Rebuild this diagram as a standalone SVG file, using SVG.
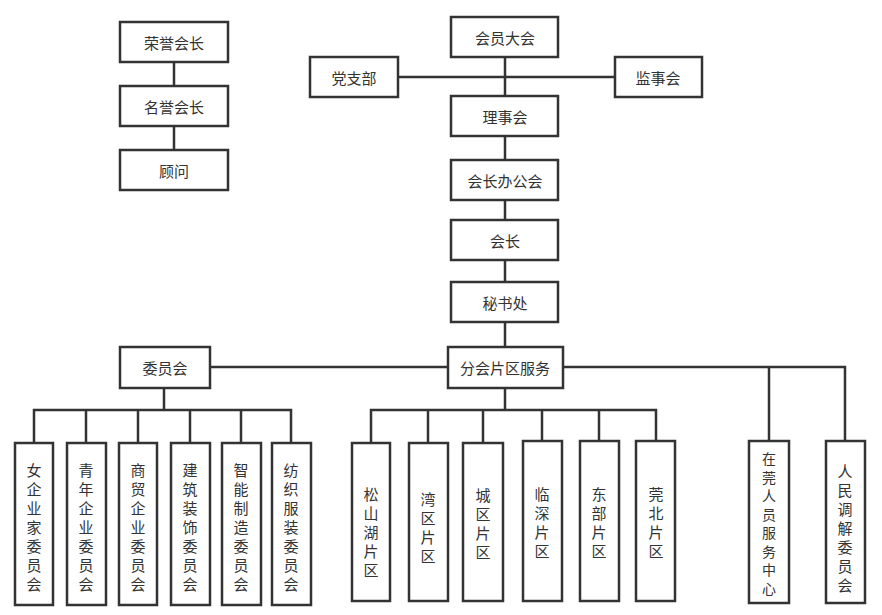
<svg xmlns="http://www.w3.org/2000/svg" width="882" height="615" viewBox="0 0 882 615">
<style>
rect{fill:#fff;stroke:#333;stroke-width:2.5}
text{font-family:"Noto Sans CJK SC","Noto Sans",sans-serif;font-size:15px;fill:#333;text-anchor:middle;dominant-baseline:central}
.sm{font-size:14px}
.c line,.c polyline{stroke:#333;stroke-width:2.5;fill:none}
</style>
<rect x="0" y="0" width="882" height="615" style="stroke:none"/>
<g class="c" id="connectors">
<line x1="174" y1="62" x2="174" y2="150"/>
<line x1="505" y1="57" x2="505" y2="347"/>
<line x1="398" y1="77" x2="615" y2="77"/>
<line x1="210" y1="367" x2="448" y2="367"/>
<polyline points="563,367 845,367 845,441"/>
<line x1="769" y1="367" x2="769" y2="441"/>
<line x1="164" y1="388" x2="164" y2="410"/>
<polyline points="34,443 34,410 291,410 291,443"/>
<line x1="86" y1="410" x2="86" y2="443"/><line x1="138" y1="410" x2="138" y2="443"/><line x1="190" y1="410" x2="190" y2="443"/><line x1="241" y1="410" x2="241" y2="443"/>
<line x1="505" y1="388" x2="505" y2="410"/>
<polyline points="371,443 371,410 656,410 656,441"/>
<line x1="428" y1="410" x2="428" y2="443"/><line x1="483" y1="410" x2="483" y2="443"/><line x1="542" y1="410" x2="542" y2="441"/><line x1="599" y1="410" x2="599" y2="441"/>
</g>
<g id="n1"><rect x="120" y="22" width="108" height="40"/><text x="174" y="42">荣誉会长</text></g>
<g id="n2"><rect x="120" y="86" width="108" height="40"/><text x="174" y="106">名誉会长</text></g>
<g id="n3"><rect x="120" y="150" width="108" height="40"/><text x="174" y="170">顾问</text></g>
<g id="n4"><rect x="451" y="17" width="107" height="40"/><text x="505" y="37">会员大会</text></g>
<g id="n5"><rect x="310" y="57" width="88" height="40"/><text x="354" y="77">党支部</text></g>
<g id="n6"><rect x="615" y="57" width="87" height="40"/><text x="658" y="77">监事会</text></g>
<g id="n7"><rect x="451" y="96" width="107" height="40"/><text x="505" y="116">理事会</text></g>
<g id="n8"><rect x="451" y="160" width="107" height="40"/><text x="505" y="180">会长办公会</text></g>
<g id="n9"><rect x="451" y="220" width="107" height="40"/><text x="505" y="240">会长</text></g>
<g id="n10"><rect x="451" y="282" width="107" height="40"/><text x="505" y="302">秘书处</text></g>
<g id="n11"><rect x="120" y="347" width="90" height="41"/><text x="165" y="367">委员会</text></g>
<g id="n12"><rect x="448" y="347" width="115" height="41"/><text x="505" y="367">分会片区服务</text></g>
<g id="b1"><rect x="15" y="443" width="38" height="162"/><text><tspan x="34" y="469">女</tspan><tspan x="34" y="488">企</tspan><tspan x="34" y="507">业</tspan><tspan x="34" y="526">家</tspan><tspan x="34" y="545">委</tspan><tspan x="34" y="564">员</tspan><tspan x="34" y="583">会</tspan></text></g>
<g id="b2"><rect x="67" y="443" width="39" height="162"/><text><tspan x="86" y="469">青</tspan><tspan x="86" y="488">年</tspan><tspan x="86" y="507">企</tspan><tspan x="86" y="526">业</tspan><tspan x="86" y="545">委</tspan><tspan x="86" y="564">员</tspan><tspan x="86" y="583">会</tspan></text></g>
<g id="b3"><rect x="119" y="443" width="38" height="162"/><text><tspan x="138" y="469">商</tspan><tspan x="138" y="488">贸</tspan><tspan x="138" y="507">企</tspan><tspan x="138" y="526">业</tspan><tspan x="138" y="545">委</tspan><tspan x="138" y="564">员</tspan><tspan x="138" y="583">会</tspan></text></g>
<g id="b4"><rect x="171" y="443" width="39" height="162"/><text><tspan x="190" y="469">建</tspan><tspan x="190" y="488">筑</tspan><tspan x="190" y="507">装</tspan><tspan x="190" y="526">饰</tspan><tspan x="190" y="545">委</tspan><tspan x="190" y="564">员</tspan><tspan x="190" y="583">会</tspan></text></g>
<g id="b5"><rect x="222" y="443" width="39" height="162"/><text><tspan x="241" y="469">智</tspan><tspan x="241" y="488">能</tspan><tspan x="241" y="507">制</tspan><tspan x="241" y="526">造</tspan><tspan x="241" y="545">委</tspan><tspan x="241" y="564">员</tspan><tspan x="241" y="583">会</tspan></text></g>
<g id="b6"><rect x="272" y="443" width="39" height="162"/><text><tspan x="291" y="469">纺</tspan><tspan x="291" y="488">织</tspan><tspan x="291" y="507">服</tspan><tspan x="291" y="526">装</tspan><tspan x="291" y="545">委</tspan><tspan x="291" y="564">员</tspan><tspan x="291" y="583">会</tspan></text></g>
<g id="p1"><rect x="352" y="443" width="38" height="158"/><text><tspan x="371" y="493">松</tspan><tspan x="371" y="512">山</tspan><tspan x="371" y="531">湖</tspan><tspan x="371" y="550">片</tspan><tspan x="371" y="569">区</tspan></text></g>
<g id="p2"><rect x="409" y="443" width="39" height="158"/><text><tspan x="428" y="498">湾</tspan><tspan x="428" y="517">区</tspan><tspan x="428" y="536">片</tspan><tspan x="428" y="555">区</tspan></text></g>
<g id="p3"><rect x="463" y="443" width="40" height="158"/><text><tspan x="483" y="494">城</tspan><tspan x="483" y="513">区</tspan><tspan x="483" y="532">片</tspan><tspan x="483" y="551">区</tspan></text></g>
<g id="p4"><rect x="523" y="441" width="39" height="160"/><text><tspan x="542" y="493">临</tspan><tspan x="542" y="512">深</tspan><tspan x="542" y="531">片</tspan><tspan x="542" y="550">区</tspan></text></g>
<g id="p5"><rect x="580" y="441" width="39" height="160"/><text><tspan x="599" y="493">东</tspan><tspan x="599" y="512">部</tspan><tspan x="599" y="531">片</tspan><tspan x="599" y="550">区</tspan></text></g>
<g id="p6"><rect x="636" y="441" width="39" height="160"/><text><tspan x="656" y="493">莞</tspan><tspan x="656" y="512">北</tspan><tspan x="656" y="531">片</tspan><tspan x="656" y="550">区</tspan></text></g>
<g id="s1"><rect x="749" y="441" width="40" height="162"/><text class="sm"><tspan x="769" y="458">在</tspan><tspan x="769" y="477">莞</tspan><tspan x="769" y="495">人</tspan><tspan x="769" y="514">员</tspan><tspan x="769" y="532">服</tspan><tspan x="769" y="551">务</tspan><tspan x="769" y="569">中</tspan><tspan x="769" y="588">心</tspan></text></g>
<g id="s2"><rect x="826" y="441" width="39" height="162"/><text><tspan x="845" y="470">人</tspan><tspan x="845" y="489">民</tspan><tspan x="845" y="508">调</tspan><tspan x="845" y="527">解</tspan><tspan x="845" y="546">委</tspan><tspan x="845" y="565">员</tspan><tspan x="845" y="584">会</tspan></text></g>
</svg>
